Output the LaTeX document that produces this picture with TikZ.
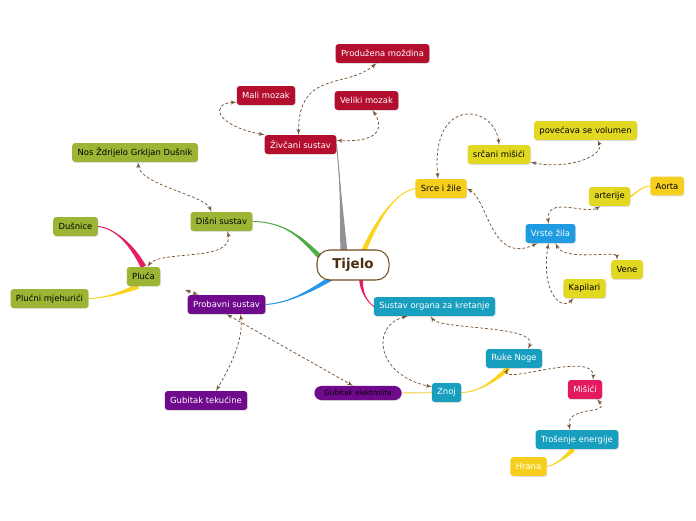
\documentclass[tikz,border=0pt]{standalone}
\usepackage{fontspec}
\setmainfont{DejaVu Sans}
\usepackage{tikz}
\usetikzlibrary{arrows}
\usetikzlibrary{calc}
\usetikzlibrary{shadows}
\pgfdeclarelayer{background}
\pgfsetlayers{background,main}
\definecolor{zred}{RGB}{180,14,46}
\definecolor{dolive}{RGB}{156,181,52}
\definecolor{ppurple}{RGB}{112,10,140}
\definecolor{gyellow}{RGB}{246,206,30}
\definecolor{lyellow}{RGB}{226,216,34}
\definecolor{vblue}{RGB}{30,155,225}
\definecolor{tteal}{RGB}{24,158,190}
\definecolor{mpink}{RGB}{228,25,95}
\definecolor{linkbrown}{RGB}{120,85,50}
\definecolor{tijborder}{RGB}{115,75,30}
\definecolor{tijtext}{RGB}{75,45,15}
\definecolor{bgray}{RGB}{145,146,152}
\definecolor{bgreen}{RGB}{80,170,70}
\definecolor{bblue}{RGB}{40,150,230}
\definecolor{byellow}{RGB}{250,212,30}
\definecolor{bpink}{RGB}{230,30,100}
\definecolor{bpale}{RGB}{248,222,120}
\tikzset{topic/.style = {rounded corners=2.5pt, minimum height=16.2pt, inner xsep=4.6pt, inner ysep=0pt,
                         font=\fontsize{7.2}{8}\selectfont,
                         drop shadow={opacity=0.25, shadow xshift=0.5pt, shadow yshift=-0.7pt}},
         relation/.style = {draw=linkbrown, line width=0.65pt, dash pattern=on 2.4pt off 1.8pt, latex'-latex'}}
\newcommand{\branch}[6]{%
  \fill [#1] (#2) .. controls (#3) and ($(#4)+0.7*(#6)$) .. ($(#5)+(#6)$) -- ($(#5)-(#6)$)
        .. controls ($(#4)-0.7*(#6)$) and (#3) .. (#2) -- cycle;
  \draw [#1, line width=0.8pt] (#2) .. controls (#3) and (#4) .. (#5);}

\begin{document}
\begin{tikzpicture}[x=0.03cm, y=-0.03cm]
    \useasboundingbox (0, 0) rectangle (696, 520);

    \node [draw=tijborder, line width=0.9pt, fill=white, rounded corners=11pt, minimum width=61.5pt,
           minimum height=25.6pt, text=tijtext, font=\bfseries\fontsize{11.5}{13}\selectfont] (tijelo) at (353, 265) {Tijelo};

    \node [topic, fill=zred, text=white] (zivcani) at (300.5, 144.5) {Živčani sustav};
    \node [topic, fill=zred, text=white] (produzena) at (382.5, 53.5) {Produžena moždina};
    \node [topic, fill=zred, text=white] (mali) at (266, 95.5) {Mali mozak};
    \node [topic, fill=zred, text=white] (veliki) at (366.5, 100.5) {Veliki mozak};

    \node [topic, fill=dolive] (disni) at (221.5, 221.5) {Dišni sustav};
    \node [topic, fill=dolive] (nos) at (135, 152.5) {Nos Ždrijelo Grkljan Dušnik};
    \node [topic, fill=dolive] (dusnice) at (75.5, 226.5) {Dušnice};
    \node [topic, fill=dolive] (pluca) at (143.5, 276.5) {Pluća};
    \node [topic, fill=dolive] (plucni) at (49.5, 298.5) {Plućni mjehurići};

    \node [topic, fill=ppurple, text=white] (probavni) at (226.5, 304.5) {Probavni sustav};
    \node [topic, fill=ppurple, text=white] (tekucine) at (206, 400.5) {Gubitak tekućine};
    \node [topic, fill=ppurple, rounded corners=6pt, minimum height=12pt, inner xsep=8.5pt,
           font=\fontsize{6.2}{7}\selectfont] (elektrolita) at (358, 393) {Gubitak elektrolita};

    \node [topic, fill=gyellow] (srce) at (441, 188.5) {Srce i žile};
    \node [topic, fill=lyellow] (srcani) at (499, 154.5) {srčani mišići};
    \node [topic, fill=lyellow] (povecava) at (585.5, 130.5) {povećava se volumen};
    \node [topic, fill=vblue, text=white] (vrste) at (550.5, 233.5) {Vrste žila};
    \node [topic, fill=lyellow] (arterije) at (609.5, 196.5) {arterije};
    \node [topic, fill=gyellow] (aorta) at (667, 186) {Aorta};
    \node [topic, fill=lyellow] (vene) at (627, 269.5) {Vene};
    \node [topic, fill=lyellow] (kapilari) at (584.5, 288.5) {Kapilari};

    \node [topic, fill=tteal, text=white] (sustav) at (434.5, 306.5) {Sustav organa za kretanje};
    \node [topic, fill=tteal, text=white] (rukenoge) at (514, 358.5) {Ruke Noge};
    \node [topic, fill=tteal, text=white] (znoj) at (446.5, 392.5) {Znoj};
    \node [topic, fill=mpink, text=white] (misici) at (585, 389.5) {Mišići};
    \node [topic, fill=tteal, text=white] (trosenje) at (577, 439.5) {Trošenje energije};
    \node [topic, fill=gyellow, text=white] (hrana) at (528.5, 466.5) {Hrana};

    \coordinate (tgray) at ($(tijelo.north)+(-9, 3)$);
    \coordinate (tgreen) at ($(tijelo.west)+(6, -6)$);
    \coordinate (tblue) at ($(tijelo.south west)+(16, -3)$);
    \coordinate (tyellow) at ($(tijelo.north)+(10, 3)$);
    \coordinate (tpink) at ($(tijelo.south)+(8, -3)$);

    \begin{pgfonlayer}{background}
    \branch{bgray}{zivcani.east}{341, 190}{342, 225}{tgray}{3.5, 0}
    \branch{bgreen}{disni.east}{290, 222}{305, 243}{tgreen}{1.8, -1.8}
    \branch{bblue}{probavni.east}{290, 303}{312, 290}{tblue}{1.1, 2.2}
    \branch{byellow}{srce.west}{395, 192}{377, 220}{tyellow}{2.3, 1}
    \branch{bpink}{sustav.west}{366, 300}{361, 292}{tpink}{2, 0}
    \branch{bpink}{dusnice.east}{115, 228}{132, 245}{pluca.north}{2.5, -1.2}
    \branch{byellow}{plucni.east}{105, 298}{122, 293}{pluca.-120}{1, 2.3}
    \branch{byellow}{aorta.west}{642, 186}{638, 192}{arterije.east}{0, 1}
    \branch{byellow}{znoj.east}{480, 392}{495, 380}{rukenoge.-120}{1.7, 1.8}
    \branch{byellow}{hrana.east}{558, 464}{566, 456}{trosenje.-110}{1.8, 1.8}
    \draw [bpale, line width=1.2pt] (elektrolita.east) -- (znoj.west);
    \end{pgfonlayer}

    \coordinate (probstub) at (185, 290);

    \draw [relation] ($(zivcani.north)+(-2, 0)$) .. controls +(0, -65) and +(-31, 26) .. ($(produzena.south)+(-6, 0)$);
    \draw [relation] ($(mali.south west)+(0, -3)$) .. controls +(-27, 1) and +(-49, -9) .. (zivcani.north west);
    \draw [relation] ($(veliki.south)+(6, 0)$) .. controls +(10, 15) and +(47, 2) .. ($(zivcani.east)+(0, -4)$);
    \draw [relation] ($(nos.south)+(3, 0)$) .. controls +(2, 23) and +(-7, -17) .. ($(disni.north)+(-10, 0)$);
    \draw [relation] ($(disni.south)+(6, 0)$) .. controls +(7, 31) and +(12, -17) .. ($(pluca.north)+(4, 0)$);
    \draw [relation] (probstub) -- ($(probavni.north west)+(11, 0)$);
    \draw [relation] ($(probavni.south)+(14, 0)$) .. controls +(3, 25) and +(15, -25) .. ($(tekucine.north)+(10, 0)$);
    \draw [relation] (probavni.south) -- ($(elektrolita.north)+(-5, 0)$);
    \draw [relation] ($(srce.north)+(-3, 0)$) .. controls +(-8, -84) and +(-4, -40) .. (srcani.north);
    \draw [relation] ($(srcani.south east)+(0, -2)$) .. controls +(39, 8) and +(8, 15) .. ($(povecava.south)+(12, 0)$);
    \draw [relation] (srce.east) .. controls +(22, 12) and +(-47, 22) .. ($(vrste.south)+(-13, 0)$);
    \draw [relation] ($(vrste.north)+(-2, 0)$) .. controls +(-3, -29) and +(-15, 9) .. ($(arterije.south)+(-9, 0)$);
    \draw [relation] ($(vrste.south)+(5, 0)$) .. controls +(9, 19) and +(0, -10) .. ($(vene.north)+(-10, 0)$);
    \draw [relation] ($(vrste.south)+(-2, 0)$) .. controls +(-8, 47) and +(-13, 14) .. ($(kapilari.south)+(-11, 0)$);
    \draw [relation] ($(sustav.south)+(-27, 0)$) .. controls +(-37, 9) and +(-56, -12) .. ($(znoj.north west)+(0, 4)$);
    \draw [relation] ($(sustav.south)+(-4, 0)$) .. controls +(10, 14) and +(12, -24) .. ($(rukenoge.north)+(14, 0)$);
    \draw [relation] ($(rukenoge.south)+(-6, 0)$) .. controls +(-8, 17) and +(2, -30) .. ($(misici.north)+(8, 0)$);
    \draw [relation] ($(misici.south)+(12, 0)$) .. controls +(15, 16) and +(-5, -25) .. ($(trosenje.north)+(-7, 0)$);
\end{tikzpicture}
\end{document}
